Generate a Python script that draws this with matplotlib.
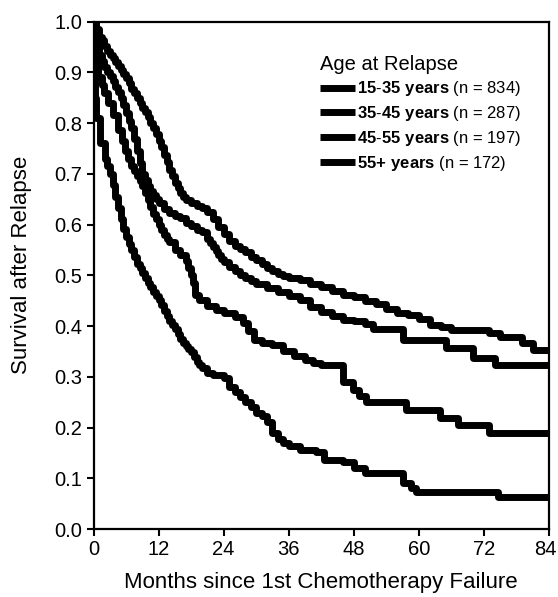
import matplotlib
matplotlib.use("Agg")
import matplotlib.pyplot as plt
import matplotlib.transforms as mtransforms
from matplotlib.lines import Line2D

plt.rcParams['font.family'] = ['Liberation Sans', 'DejaVu Sans']
plt.rcParams['mathtext.fontset'] = 'custom'
plt.rcParams['mathtext.rm'] = 'Liberation Sans'
plt.rcParams['mathtext.bf'] = 'Liberation Sans:bold'

# ---- data ----
t_1535 = [0, 0.5, 1, 1.5, 2, 2.5, 3, 3.5, 4, 4.5, 5, 5.5, 6, 6.5, 7, 7.5, 8, 8.5, 9, 9.5,
          10, 10.5, 11, 11.5, 12, 12.5, 13, 13.5, 14, 14.5, 15, 15.5, 16, 16.5, 17,
          18, 19, 20, 21, 22, 23, 24, 25, 26, 27, 28, 29, 30, 31, 32, 33, 34, 35, 36, 38,
          40, 42, 44, 46, 48, 50, 52, 54, 56, 58, 60, 62, 64, 66, 73, 75, 79, 81, 84]
s_1535 = [1.0, 0.985, 0.97, 0.963, 0.952, 0.942, 0.935, 0.928, 0.92, 0.913, 0.905, 0.897,
          0.888, 0.878, 0.868, 0.859, 0.85, 0.84, 0.83, 0.821, 0.812, 0.801, 0.79, 0.778,
          0.765, 0.752, 0.738, 0.723, 0.708, 0.695, 0.682, 0.672, 0.663, 0.655, 0.648,
          0.642, 0.637, 0.632, 0.625, 0.61, 0.595, 0.582, 0.568, 0.558, 0.552, 0.545, 0.537,
          0.53, 0.522, 0.515, 0.508, 0.503, 0.499, 0.495, 0.49, 0.483, 0.476, 0.469, 0.462,
          0.458, 0.45, 0.443, 0.433, 0.426, 0.422, 0.414, 0.402, 0.398, 0.392, 0.386, 0.379,
          0.366, 0.353, 0.353]

t_3545 = [0, 0.5, 1, 1.5, 2, 2.5, 3, 3.5, 4, 4.5, 5, 5.5, 6, 6.5, 7, 7.5, 8, 8.5, 9, 9.5,
          10, 10.5, 11, 11.5, 12, 13, 14, 15, 16, 17, 18, 19, 20, 21, 21.5, 22, 22.5, 23,
          23.5, 24, 25, 26, 27, 28, 29, 30, 32, 34, 36, 38, 40, 42, 44, 46, 48, 50,
          51.5, 57, 65, 70, 74, 84]
s_3545 = [1.0, 0.96, 0.935, 0.922, 0.91, 0.90, 0.893, 0.882, 0.872, 0.861, 0.85, 0.835,
          0.82, 0.805, 0.79, 0.768, 0.745, 0.722, 0.70, 0.687, 0.675, 0.666, 0.658, 0.65,
          0.642, 0.63, 0.622, 0.617, 0.612, 0.603, 0.597, 0.59, 0.585, 0.572, 0.563, 0.555,
          0.547, 0.54, 0.533, 0.527, 0.517, 0.508, 0.50, 0.494, 0.488, 0.482, 0.474, 0.467,
          0.46, 0.451, 0.438, 0.428, 0.42, 0.412, 0.41, 0.404, 0.395, 0.372, 0.356, 0.336,
          0.323, 0.323]

t_4555 = [0, 0.3, 0.9, 1.5, 2, 2.7, 3.5, 4.6, 5.2, 5.8, 6.4, 7, 7.5, 8, 8.5, 9, 9.5, 10,
          10.5, 11, 11.5, 12, 12.5, 13, 13.5, 14, 15, 16, 17, 17.5, 18, 18.3, 18.7, 19.5,
          21, 22.5, 24, 26, 27.5, 28.5, 29.5, 31, 33, 35, 37, 39, 40.5, 42,
          46, 47.8, 49, 50.3, 57.7, 63.8, 67.2, 73, 84]
s_4555 = [1.0, 0.92, 0.891, 0.875, 0.86, 0.839, 0.815, 0.786, 0.765, 0.745, 0.73, 0.715,
          0.705, 0.695, 0.685, 0.675, 0.662, 0.648, 0.634, 0.62, 0.61, 0.60, 0.59, 0.58,
          0.572, 0.565, 0.55, 0.54, 0.528, 0.515, 0.50, 0.485, 0.462, 0.451, 0.44, 0.432,
          0.426, 0.418, 0.405, 0.39, 0.372, 0.366, 0.362, 0.35, 0.34, 0.333, 0.327, 0.323,
          0.29, 0.274, 0.262, 0.251, 0.234, 0.218, 0.205, 0.189, 0.189]

t_55 = [0, 0.2, 0.5, 1.2, 2.1, 2.5, 3, 3.5, 4, 4.5, 5, 5.5, 6, 6.5, 7, 7.5, 8, 8.5, 9,
        9.5, 10, 10.5, 11, 11.5, 12, 12.5, 13, 13.5, 14, 14.5, 15, 15.5, 16, 16.5, 17,
        17.5, 18, 18.5, 19, 19.5, 20, 21, 22, 24, 25, 26, 27, 28, 29, 30, 31, 32, 33, 34,
        35, 36, 38, 41, 42.5, 46, 48, 50, 57, 58.5, 59.5, 74.5, 84]
s_55 = [1.0, 0.85, 0.81, 0.76, 0.73, 0.715, 0.70, 0.678, 0.655, 0.632, 0.61, 0.592, 0.575,
        0.562, 0.55, 0.537, 0.523, 0.514, 0.505, 0.495, 0.485, 0.476, 0.468, 0.46, 0.452,
        0.441, 0.43, 0.42, 0.41, 0.402, 0.395, 0.385, 0.375, 0.367, 0.36, 0.354, 0.348,
        0.339, 0.33, 0.324, 0.318, 0.308, 0.303, 0.297, 0.28, 0.27, 0.26, 0.25, 0.24,
        0.228, 0.222, 0.21, 0.19, 0.178, 0.17, 0.163, 0.156, 0.152, 0.136, 0.133, 0.12,
        0.11, 0.09, 0.08, 0.073, 0.064, 0.064]

labels = [r"$\mathbf{15}$-$\mathbf{35\ years}$ (n = 834)",
          r"$\mathbf{35}$-$\mathbf{45\ years}$ (n = 287)",
          r"$\mathbf{45}$-$\mathbf{55\ years}$ (n = 197)",
          r"$\mathbf{55{+}\ years}$ (n = 172)"]

x_ticks = [0, 12, 24, 36, 48, 60, 72, 84]
y_ticks = [0.0, 0.1, 0.2, 0.3, 0.4, 0.5, 0.6, 0.7, 0.8, 0.9, 1.0]

# ---- figure ----
fig = plt.figure(figsize=(5.58, 5.97), dpi=100)
ax = fig.add_axes([0.1676, 0.1139, 0.8164, 0.850])

series = [(t_1535, s_1535), (t_3545, s_3545), (t_4555, s_4555), (t_55, s_55)]
for t, s in series:
    ax.step(t, s, where='post', color='black', lw=5, solid_joinstyle='round',
            solid_capstyle='butt')

ax.set_xlim(0, 84)
ax.set_ylim(0, 1.0)
ax.set_xticks(x_ticks)
ax.set_xticklabels([str(v) for v in x_ticks])
ax.set_yticks(y_ticks)
ax.set_yticklabels([f"{v:.1f}" for v in y_ticks])
ax.tick_params(direction='out', length=5, width=1.5, labelsize=14.5, pad=3, colors='black')
for sp in ax.spines.values():
    sp.set_linewidth(1.6)
    sp.set_color('black')

# keep the last x tick label inside the figure
last = ax.get_xticklabels()[-1]
last.set_transform(last.get_transform() +
                   mtransforms.ScaledTranslation(-4 / 100, 0, fig.dpi_scale_trans))

ax.set_xlabel("Months since 1st Chemotherapy Failure", fontsize=16, labelpad=9)
ax.set_ylabel("Survival after Relapse", fontsize=16)
ax.yaxis.set_label_coords(-0.135, 0.52)

handles = [Line2D([0], [0], color='black', lw=5, solid_capstyle='butt') for _ in labels]
leg = ax.legend(handles, labels, loc='upper left', bbox_to_anchor=(0.497, 0.935),
                frameon=False, fontsize=12, title="Age at Relapse", title_fontsize=14.5,
                alignment='left', handlelength=2.1, handletextpad=0.15, labelspacing=0.35,
                borderpad=0, borderaxespad=0)

fig.savefig("out.png", dpi=100)
